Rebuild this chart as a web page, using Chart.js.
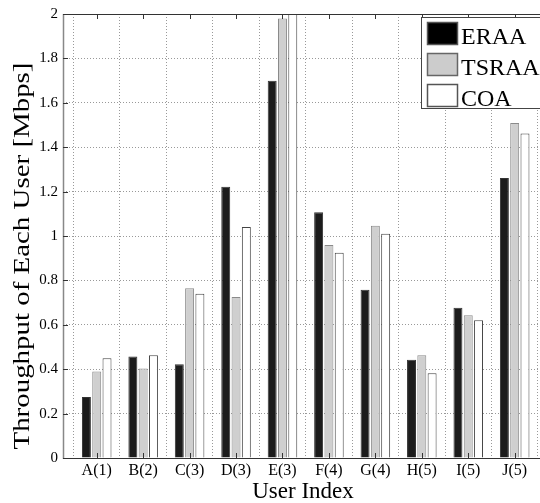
<!DOCTYPE html>
<html lang="en">
<head>
<meta charset="UTF-8">
<title>Throughput of Each User</title>
<script src="https://cdn.jsdelivr.net/npm/chart.js"></script>
<style>
  body {
    margin: 0;
    padding: 0;
    background: #fff;
    overflow: hidden;
  }
  #chart { display: block; }
</style>
</head>
<body>
<canvas id="chart" width="540" height="503"></canvas>
<script>
// values
const users = ['A(1)', 'B(2)', 'C(3)', 'D(3)', 'E(3)', 'F(4)', 'G(4)', 'H(5)', 'I(5)', 'J(5)'];
const eraa  = [0.275, 0.457, 0.422, 1.222, 1.699, 1.107, 0.758, 0.443, 0.677, 1.261];
const tsraa = [0.390, 0.403, 0.765, 0.725, 1.980, 0.959, 1.046, 0.463, 0.643, 1.509];
const coa   = [0.449, 0.463, 0.740, 1.040, 2.050, 0.925, 1.010, 0.382, 0.620, 1.462];
const yTicks = [0, 0.2, 0.4, 0.6, 0.8, 1, 1.2, 1.4, 1.6, 1.8, 2];
const xTitle = 'User Index';
const yTitle = 'Throughput of Each User [Mbps]';

const FONT = "'Liberation Serif', 'Times New Roman', serif";

function series(vals) {
  return vals.map((v, i) => ({ x: i + 1, y: v }));
}

// MATLAB-like frame, inner ticks, axis titles and legend
const matlabFrame = {
  id: 'matlabFrame',
  afterDatasetsDraw(chart) {
    const ctx = chart.ctx;
    const a = chart.chartArea;
    const xs = chart.scales.x, ys = chart.scales.y;
    ctx.save();

    // top and bottom lines
    ctx.strokeStyle = '#333';
    ctx.lineWidth = 1;
    ctx.beginPath();
    ctx.moveTo(a.left, a.top + 0.5); ctx.lineTo(a.right, a.top + 0.5);
    ctx.moveTo(a.left, a.bottom + 0.5); ctx.lineTo(a.right, a.bottom + 0.5);
    ctx.stroke();
    // left axis
    ctx.strokeStyle = '#888';
    ctx.lineWidth = 1.5;
    ctx.beginPath();
    ctx.moveTo(a.left + 0.5, a.top); ctx.lineTo(a.left + 0.5, a.bottom + 1);
    ctx.stroke();

    // inner ticks
    ctx.strokeStyle = '#333';
    ctx.lineWidth = 1;
    ctx.beginPath();
    users.forEach((u, i) => {
      const px = Math.round(xs.getPixelForValue(i + 1)) + 0.5;
      ctx.moveTo(px, a.bottom); ctx.lineTo(px, a.bottom - 5);
      ctx.moveTo(px, a.top); ctx.lineTo(px, a.top + 5);
    });
    yTicks.forEach(v => {
      const py = Math.round(ys.getPixelForValue(v)) + 0.5;
      ctx.moveTo(a.left, py); ctx.lineTo(a.left + 5, py);
    });
    ctx.stroke();

    // x title
    ctx.fillStyle = '#000';
    ctx.font = '23px ' + FONT;
    ctx.textAlign = 'center';
    ctx.textBaseline = 'alphabetic';
    ctx.fillText(xTitle, 303, 498);

    // y title (stretched along its length like the original)
    ctx.save();
    ctx.translate(29, 256);
    ctx.rotate(-Math.PI / 2);
    ctx.font = '24px ' + FONT;
    const w = ctx.measureText(yTitle).width;
    ctx.scale(387 / w, 1);
    ctx.fillText(yTitle, 0, 0);
    ctx.restore();

    // legend (its right side runs off the picture, as in the original)
    const lx = 421, ly = 17, lw = 160, lh = 91;
    ctx.fillStyle = '#fff';
    ctx.fillRect(lx, ly, lw, lh);
    ctx.strokeStyle = '#444';
    ctx.lineWidth = 1;
    ctx.strokeRect(lx + 0.5, ly + 0.5, lw, lh);
    ctx.font = '24px ' + FONT;
    ctx.textAlign = 'left';
    chart.data.datasets.forEach((ds, i) => {
      const sy = 22 + i * 31;
      ctx.fillStyle = ds.legendFill;
      ctx.fillRect(427, sy, 30, 22);
      ctx.strokeStyle = ds.legendBorder;
      ctx.lineWidth = 1.5;
      ctx.strokeRect(427.5, sy + 0.5, 30, 22);
      ctx.fillStyle = '#000';
      ctx.fillText(ds.label, 461, sy + 22);
    });

    ctx.restore();
  }
};

new Chart(document.getElementById('chart'), {
  type: 'bar',
  data: {
    datasets: [
      { label: 'ERAA', data: series(eraa), backgroundColor: '#1c1c1c', borderColor: '#333',
        legendFill: '#000', legendBorder: '#555' },
      { label: 'TSRAA', data: series(tsraa), backgroundColor: '#cfcfcf', borderColor: '#8a8a8a',
        legendFill: '#cccccc', legendBorder: '#666' },
      { label: 'COA', data: series(coa), backgroundColor: '#ffffff', borderColor: '#444',
        legendFill: '#ffffff', legendBorder: '#555' }
    ].map(d => Object.assign(d, { borderWidth: 1, categoryPercentage: 0.665, barPercentage: 0.87 }))
  },
  options: {
    responsive: false,
    animation: false,
    devicePixelRatio: 1,
    layout: { padding: { top: 13, right: 0, left: 0, bottom: 0 } },
    plugins: { legend: { display: false }, tooltip: { enabled: false } },
    scales: {
      x: {
        type: 'linear',
        min: 0.274,
        max: 10.545,
        offset: false,
        afterFit(scale) { scale.height = 45; },
        afterBuildTicks(scale) { scale.ticks = users.map((u, i) => ({ value: i + 1 })); },
        ticks: {
          autoSkip: false,
          maxRotation: 0,
          padding: 3,
          color: '#000',
          font: { family: FONT, size: 16 },
          callback: (v) => users[Math.round(v) - 1] || ''
        },
        grid: { color: '#999', drawTicks: false },
        border: { display: false, dash: [1, 2] }
      },
      y: {
        min: 0,
        max: 2,
        afterFit(scale) { scale.width = 63; },
        afterBuildTicks(scale) { scale.ticks = yTicks.map(v => ({ value: v })); },
        ticks: {
          padding: 5,
          color: '#000',
          font: { family: FONT, size: 15 },
          callback: (v) => String(Math.round(v * 10) / 10)
        },
        grid: { color: '#999', drawTicks: false },
        border: { display: false, dash: [1, 2] }
      }
    }
  },
  plugins: [matlabFrame]
});
</script>
</body>
</html>
